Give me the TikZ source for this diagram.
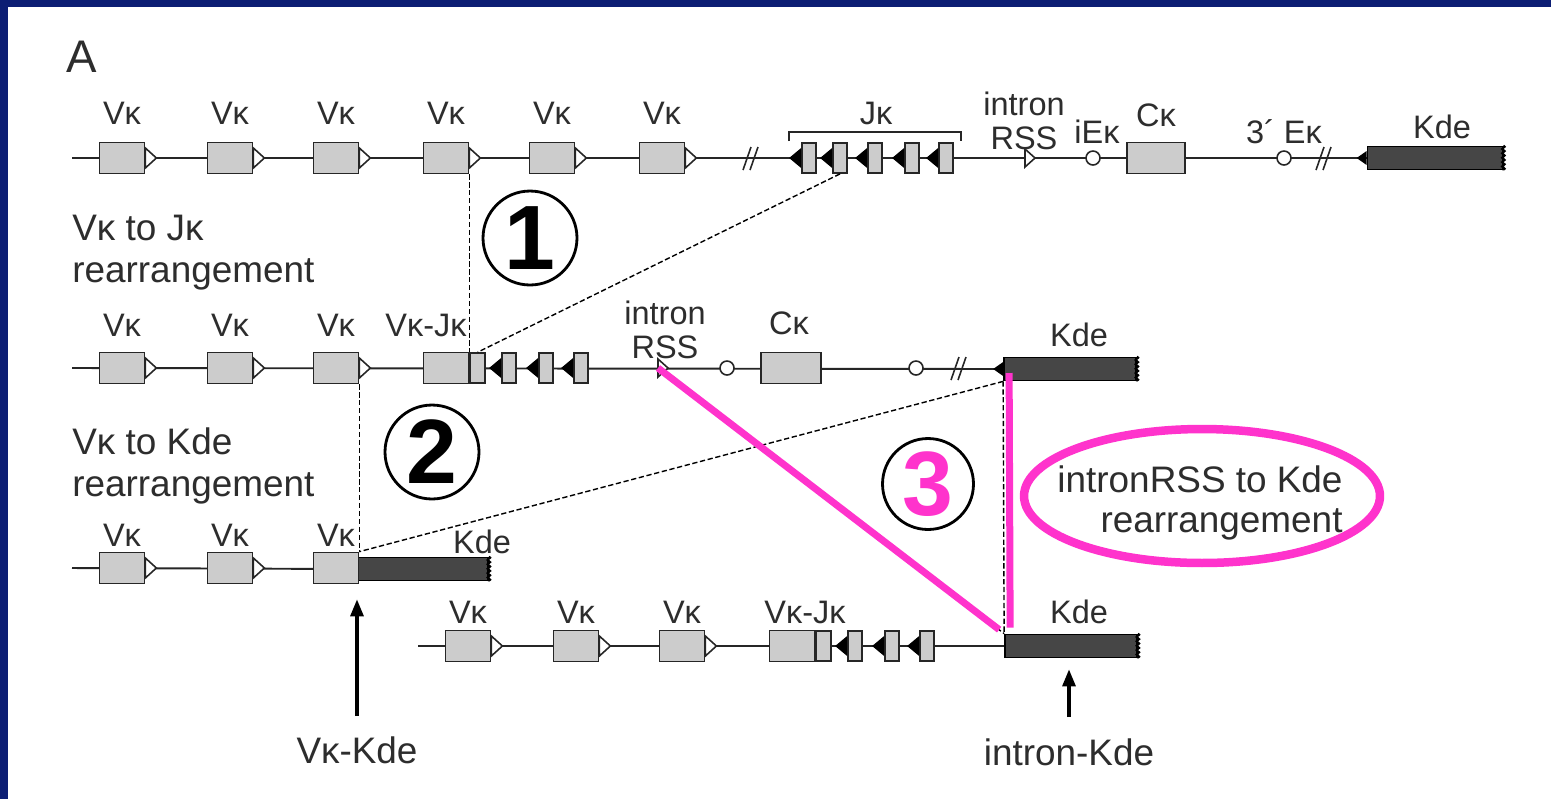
\documentclass[tikz,border=0pt]{standalone}
\usepackage{fontspec}
\setmainfont{Liberation Sans}
\usetikzlibrary{shapes.geometric,arrows.meta,decorations.pathmorphing}
\definecolor{navy}{RGB}{12,30,116}
\definecolor{pinkline}{RGB}{255,51,204}
\definecolor{genegray}{RGB}{204,204,204}
\definecolor{kdegray}{RGB}{70,70,70}
\definecolor{txtgray}{RGB}{45,45,45}
\tikzset{
  dna/.style={line width=1.1pt, black!85},
  vbox/.style={draw=black!85, line width=1pt, fill=genegray, minimum width=0.9cm, minimum height=0.62cm, inner sep=0pt},
  jbox/.style={vbox, minimum width=0.28cm, minimum height=0.6cm},
  kdebox/.style={draw=black, line width=1pt, fill=kdegray, minimum width=2.64cm, minimum height=0.46cm, inner sep=0pt},
  rsstri/.style={draw=black!85, line width=0.9pt, fill=white},
  jtri/.style={fill=black},
  enh/.style={circle, draw=black!85, line width=0.9pt, fill=white, minimum size=0.28cm, inner sep=0pt},
  lbl/.style={text=txtgray, font=\fontsize{18.5}{19.5}\selectfont, inner sep=1pt, align=center},
  bigtxt/.style={text=txtgray, font=\fontsize{21}{24}\selectfont, align=left, inner sep=0pt},
  numc/.style={circle, draw, line width=1.6pt, minimum size=1.88cm, inner sep=0pt, font=\fontsize{52}{52}\selectfont\bfseries},
  cut/.style={dash pattern=on 3pt off 1.5pt, line width=0.8pt},
  pinkln/.style={pinkline, line width=0.14cm},
  brk/.style={line width=0.9pt, black!85},
  tornend/.style={line width=1.2pt, decorate, decoration={zigzag, amplitude=0.7pt, segment length=2.5pt}},
}
\begin{document}
\begin{tikzpicture}[x=0.02cm, y=-0.02cm, >={Triangle[length=0.34cm,width=0.26cm]}]
\useasboundingbox (0,0) rectangle (1551,799);
\fill[navy] (0,0) rectangle (1551,799);
\fill[white] (8,7) rectangle (1551,799);
\node[text=txtgray, font=\fontsize{26}{26}\selectfont] (pa) at (82,57) {A};

% row 1: germline
\node[kdebox, minimum width=2.7cm] (r1k) at (1435,158) {};
\coordinate (r1a) at (72,158);
\draw[dna] (r1a) -- (r1k.west);
\foreach \i/\x in {1/122,2/230,3/336,4/446,5/552,6/662} {
  \node[vbox] (r1v\i) at (\x,158) {};
  \draw[rsstri] (r1v\i.east) ++(0,-10) -- ++(11,10) -- ++(-11,10) -- cycle;
  \node[lbl] (r1l\i) at (\x,113) {Vκ};
}
\foreach \i/\x in {1/809,2/840,3/875,4/912,5/946} {
  \node[jbox] (r1j\i) at (\x,158) {};
  \fill[jtri] (r1j\i.west) ++(0,-10) -- ++(-12,10) -- ++(12,10) -- cycle;
}
\draw[brk] (789,141) -- (789,132) -- (961,132) -- (961,141);
\node[lbl] (r1jl) at (876,113) {Jκ};
\draw[brk] (743,170) -- (751,147) (750,170) -- (758,147);
\coordinate (r1rss) at (1025,158);
\draw[rsstri] (r1rss) ++(0,-9) -- ++(10,9) -- ++(-10,9) -- cycle;
\node[lbl] (r1rl) at (1024,121) {intron\\RSS};
\node[enh] (r1ie) at (1093,158) {};
\node[lbl] (r1iel) at (1097,132) {iEκ};
\node[vbox, minimum width=1.16cm] (r1c) at (1156,158) {};
\node[lbl] (r1cl) at (1156,115) {Cκ};
\node[enh] (r1e3) at (1284,158) {};
\node[lbl] (r1e3l) at (1284,132) {3´ Eκ};
\draw[brk] (1316,170) -- (1324,147) (1323,170) -- (1331,147);
\fill[jtri] (r1k.west) ++(0,-7) -- ++(-10,7) -- ++(10,7) -- cycle;
\draw[tornend] (r1k.north east) -- (r1k.south east);
\node[lbl] (r1kl) at (1442,127) {Kde};

% row 2: V to J joined
\node[kdebox] (r2k) at (1070,369) {};
\coordinate (r2a) at (72,368);
\draw[dna] (r2a) -- (r2k.west);
\foreach \i/\x in {1/122,2/230,3/336} {
  \node[vbox] (r2v\i) at (\x,368) {};
  \draw[rsstri] (r2v\i.east) ++(0,-10) -- ++(11,10) -- ++(-11,10) -- cycle;
  \node[lbl] (r2l\i) at (\x,325) {Vκ};
}
\node[vbox] (r2vj) at (446,368) {};
\node[jbox, minimum width=0.3cm, anchor=west] (r2vjj) at (r2vj.east) {};
\node[lbl] (r2vjl) at (426,325) {Vκ-Jκ};
\foreach \i/\x in {1/509,2/546,3/581} {
  \node[jbox] (r2j\i) at (\x,368) {};
  \fill[jtri] (r2j\i.west) ++(0,-10) -- ++(-12,10) -- ++(12,10) -- cycle;
}
\coordinate (r2rss) at (658,368);
\draw[rsstri] (r2rss) ++(0,-9) -- ++(10,9) -- ++(-10,9) -- cycle;
\node[lbl] (r2rl) at (665,330) {intron\\RSS};
\node[enh] (r2ie) at (727,368) {};
\node[vbox, minimum width=1.2cm] (r2c) at (791,368) {};
\node[lbl] (r2cl) at (789,323) {Cκ};
\node[enh] (r2e3) at (916,368) {};
\draw[brk] (951,380) -- (959,357) (958,380) -- (966,357);
\fill[jtri] (r2k.west) ++(0,-7) -- ++(-10,7) -- ++(10,7) -- cycle;
\draw[tornend] (r2k.north east) -- (r2k.south east);
\node[lbl] (r2kl) at (1079,335) {Kde};

% row 3: V to Kde
\node[kdebox, minimum width=2.6cm] (r3k) at (423,569) {};
\coordinate (r3a) at (72,568);
\draw[dna] (r3a) -- (r3k.west);
\foreach \i/\x in {1/122,2/230} {
  \node[vbox] (r3v\i) at (\x,568) {};
  \draw[rsstri] (r3v\i.east) ++(0,-10) -- ++(11,10) -- ++(-11,10) -- cycle;
}
\node[vbox] (r3v3) at (336,568) {};
\foreach \i/\x in {1/122,2/230,3/336} \node[lbl] (r3l\i) at (\x,535) {Vκ};
\draw[tornend] (r3k.north east) -- (r3k.south east);
\node[lbl] (r3kl) at (482,542) {Kde};

% row 4: intron RSS to Kde
\node[kdebox] (r4k) at (1071,646) {};
\coordinate (r4a) at (418,646);
\draw[dna] (r4a) -- (r4k.west);
\foreach \i/\x in {1/468,2/576,3/682} {
  \node[vbox] (r4v\i) at (\x,646) {};
  \draw[rsstri] (r4v\i.east) ++(0,-10) -- ++(11,10) -- ++(-11,10) -- cycle;
  \node[lbl] (r4l\i) at (\x,612) {Vκ};
}
\node[vbox] (r4vj) at (792,646) {};
\node[jbox, minimum width=0.3cm, anchor=west] (r4vjj) at (r4vj.east) {};
\node[lbl] (r4vjl) at (805,612) {Vκ-Jκ};
\foreach \i/\x in {1/855,2/892,3/927} {
  \node[jbox] (r4j\i) at (\x,646) {};
  \fill[jtri] (r4j\i.west) ++(0,-10) -- ++(-12,10) -- ++(12,10) -- cycle;
}
\draw[tornend] (r4k.north east) -- (r4k.south east);
\node[lbl] (r4kl) at (1079,612) {Kde};

% deletions
\draw[cut] (r1v4.south east) -- (r2vj.north east);
\draw[cut] (r1j2.south) -- (r2vjj.north);
\draw[cut] (r2v3.south east) -- (r3v3.north east);
\draw[cut] (r2k.south west) -- (r3v3.north east);
\draw[cut] (r2k.south west) -- (r4k.north west);
\draw[cut] (r2rss) -- (r4k.north west);
\draw[pinkln] ([xshift=0.12cm,yshift=-0.08cm]r2k.west) -- ([xshift=0.12cm,yshift=0.12cm]r4k.north west);
\draw[pinkln] (r2rss) -- ([xshift=-0.1cm,yshift=0.08cm]r4k.north west);

% steps
\node[numc] (n1) at (530,238) {1};
\node[numc] (n2) at (432,452) {2};
\node[numc, text=pinkline, minimum size=1.82cm] (n3) at (928,484) {3};
\node[bigtxt, anchor=west] (t1) at (72,253) {Vκ to Jκ\\rearrangement};
\node[bigtxt, anchor=west] (t2) at (72,466) {Vκ to Kde\\rearrangement};
\node[ellipse, draw=pinkline, line width=0.17cm, minimum width=7.12cm, minimum height=2.68cm] (note) at (1202,496) {};
\node[text=txtgray, font=\fontsize{21}{23}\selectfont, align=right, inner sep=0pt] (notetxt) at (1200,503) {intronRSS to Kde\\rearrangement};

% products
\node[bigtxt] (vkk) at (357,750) {Vκ-Kde};
\node[bigtxt] (ink) at (1069,752) {intron-Kde};
\draw[->, line width=1.8pt] ([yshift=0.4cm]vkk.north) -- ([yshift=-0.36cm]vkk.north |- r3k.south);
\draw[->, line width=1.8pt] ([yshift=0.42cm]ink.north) -- ([yshift=-0.22cm]ink.north |- r4k.south);
\end{tikzpicture}
\end{document}
